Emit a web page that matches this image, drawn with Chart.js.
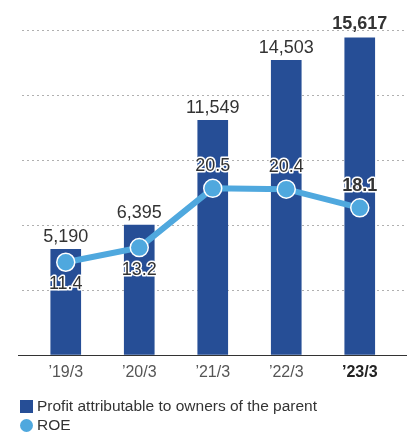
<!DOCTYPE html>
<html>
<head>
<meta charset="utf-8">
<script src="https://cdn.jsdelivr.net/npm/chart.js@4"></script>
<style>
  body { margin: 0; background: #fff; font-family: "Liberation Sans", Arial, sans-serif; }
  #wrap { position: relative; width: 407px; height: 432px; }
  .leg { position: absolute; left: 20px; font-size: 15.5px; color: #333; display: flex; align-items: center; white-space: nowrap; }
  .leg i { display: inline-block; width: 13px; height: 13px; margin-right: 4px; }
</style>
</head>
<body>
<div id="wrap">
  <canvas id="myChart" width="407" height="432"></canvas>
  <div class="leg" style="top:397px"><i style="background:#264e96"></i>Profit attributable to owners of the parent</div>
  <div class="leg" style="top:416px"><i style="background:#4fa8de;border-radius:50%"></i>ROE</div>
</div>
<script>
var years = ['\u201919/3', '\u201920/3', '\u201921/3', '\u201922/3', '\u201923/3'];
var profit = [5190, 6395, 11549, 14503, 15617];
var profitLabels = ['5,190', '6,395', '11,549', '14,503', '15,617'];
var roe = [11.4, 13.2, 20.5, 20.4, 18.1];
var roeLabelBelow = [true, true, false, false, false];

var barColor = '#264e96';
var lineColor = '#4fa8de';
var font = '"Liberation Sans", Arial, sans-serif';

// dotted grid lines + solid baseline, wider than the plot area
var gridPlugin = {
    id: 'grid',
    beforeDatasetsDraw: function (chart) {
        var c = chart.ctx, y = chart.scales.y;
        c.save();
        c.strokeStyle = '#b0b0b0';
        c.lineWidth = 1;
        c.setLineDash([2, 3]);
        for (var v = 3200; v <= 16000; v += 3200) {
            var py = Math.round(y.getPixelForValue(v)) + 0.5;
            c.beginPath();
            c.moveTo(22, py);
            c.lineTo(407, py);
            c.stroke();
        }
        c.setLineDash([]);
        c.strokeStyle = '#333';
        var by = Math.round(y.getPixelForValue(0)) + 0.5;
        c.beginPath();
        c.moveTo(18, by);
        c.lineTo(407, by);
        c.stroke();
        c.restore();
    }
};

// value labels
var labelPlugin = {
    id: 'labels',
    afterDatasetsDraw: function (chart) {
        var c = chart.ctx;
        c.save();
        c.textAlign = 'center';
        c.textBaseline = 'middle';
        var bars = chart.getDatasetMeta(0).data;
        bars.forEach(function (b, i) {
            var last = i === bars.length - 1;
            c.font = (last ? 'bold ' : '') + '18px ' + font;
            c.fillStyle = '#333';
            c.fillText(profitLabels[i], b.x, b.y - (last ? 14 : 12));
        });
        var pts = chart.getDatasetMeta(1).data;
        pts.forEach(function (p, i) {
            var last = i === pts.length - 1;
            c.font = (last ? 'bold ' : '') + '18px ' + font;
            var ty = roeLabelBelow[i] ? p.y + 22 : p.y - 22;
            c.lineWidth = 3;
            c.lineJoin = 'round';
            c.strokeStyle = '#fff';
            c.strokeText(roe[i].toFixed(1), p.x, ty);
            c.fillStyle = '#333';
            c.fillText(roe[i].toFixed(1), p.x, ty);
        });
        c.restore();
    }
};

var ctx = document.getElementById('myChart').getContext('2d');
var myChart = new Chart(ctx, {
    type: 'bar',
    data: {
        labels: years,
        datasets: [{
            type: 'bar',
            label: 'Profit attributable to owners of the parent',
            data: profit,
            backgroundColor: barColor,
            barThickness: 30,
            yAxisID: 'y',
            order: 2
        }, {
            type: 'line',
            label: 'ROE',
            data: roe,
            borderColor: lineColor,
            borderWidth: 6,
            pointRadius: 9,
            pointBackgroundColor: lineColor,
            pointBorderColor: '#fff',
            pointBorderWidth: 1.5,
            tension: 0,
            yAxisID: 'y2',
            order: 1
        }]
    },
    options: {
        responsive: false,
        animation: false,
        layout: { padding: { left: 29, right: 8, top: 30, bottom: 42 } },
        plugins: {
            legend: { display: false },
            tooltip: { enabled: false }
        },
        scales: {
            x: {
                grid: { display: false, drawTicks: false },
                border: { display: false },
                ticks: {
                    padding: 8,
                    color: function (c) { return c.index === 4 ? '#222' : '#555'; },
                    font: function (c) {
                        return { family: font, size: 16, weight: c.index === 4 ? 'bold' : 'normal' };
                    }
                }
            },
            y: { display: false, min: 0, max: 16000 },
            y2: { display: false, min: 0, max: 40 }
        }
    },
    plugins: [gridPlugin, labelPlugin]
});
</script>
</body>
</html>
